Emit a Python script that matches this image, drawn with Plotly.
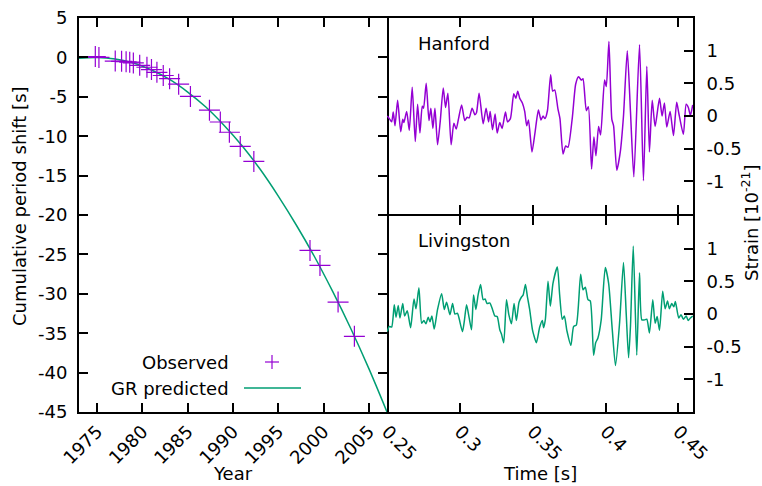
import plotly.graph_objects as go

# Hulse-Taylor pulsar: cumulative shift of periastron time
obs_year = [1974.8, 1975.2, 1977.0, 1977.7, 1978.2, 1978.6, 1979.0, 1979.7, 1980.5, 1981.0,
            1981.6, 1982.3, 1983.0, 1984.0, 1985.3, 1987.4, 1988.6, 1989.6, 1990.8, 1992.3,
            1998.5, 1999.6, 2001.6, 2003.4]
obs_shift = [0.1, 0.0, -0.47, -0.5, -0.55, -0.6, -0.7, -1.0, -1.25, -1.55,
             -1.9, -2.3, -2.7, -3.4, -4.95, -6.7, -8.2, -9.5, -11.3, -13.2,
             -24.5, -26.4, -31.05, -35.4]

gr_year = [1973, 1975, 1977, 1979, 1981, 1983, 1985, 1987, 1989, 1991,
           1993, 1995, 1997, 1999, 2001, 2003, 2005, 2007]
gr_shift = [-0.1, 0.0, -0.2, -0.7, -1.6, -2.8, -4.4, -6.3, -8.6, -11.2,
            -14.2, -17.6, -21.3, -25.3, -29.7, -34.4, -39.5, -45.0]

# GW150914 strain, units of 1e-21
hanford_t = [0.2502, 0.2516, 0.2532, 0.2543, 0.2555, 0.2573, 0.2594, 0.2608, 0.2616, 0.2635,
             0.2653, 0.2673, 0.2694, 0.2710, 0.2726, 0.2742, 0.2751, 0.2769, 0.2788, 0.2801,
             0.2815, 0.2829, 0.2847, 0.2865, 0.2886, 0.2902, 0.2918, 0.2940, 0.2959, 0.2975,
             0.2991, 0.3012, 0.3034, 0.3050, 0.3064, 0.3084, 0.3103, 0.3114, 0.3132, 0.3160,
             0.3180, 0.3197, 0.3208, 0.3224, 0.3242, 0.3256, 0.3274, 0.3290, 0.3313, 0.3327,
             0.3347, 0.3370, 0.3384, 0.3397, 0.3411, 0.3429, 0.3445, 0.3459, 0.3471, 0.3495,
             0.3516, 0.3539, 0.3557, 0.3571, 0.3584, 0.3601, 0.3623, 0.3637, 0.3651, 0.3673,
             0.3687, 0.3708, 0.3726, 0.3742, 0.3772, 0.3795, 0.3815, 0.3834, 0.3845, 0.3868,
             0.3882, 0.3904, 0.3920, 0.3934, 0.3952, 0.3966, 0.3993, 0.4005, 0.4023, 0.4043,
             0.4055, 0.4077, 0.4101, 0.4123, 0.4149, 0.4171, 0.4194, 0.4233, 0.4260, 0.4283,
             0.4301, 0.4320, 0.4340, 0.4370, 0.4388, 0.4404, 0.4420, 0.4443, 0.4466, 0.4488,
             0.4502, 0.4534, 0.4553, 0.4568, 0.4582, 0.4598]
hanford_h = [0.00, -0.04, -0.09, 0.06, -0.15, 0.24, -0.24, -0.05, -0.10, 0.07,
             -0.22, 0.44, -0.39, 0.18, -0.26, 0.15, 0.12, 0.50, -0.07, 0.12,
             -0.19, 0.12, -0.44, -0.09, 0.43, 0.13, 0.35, -0.44, -0.11, -0.20,
             -0.04, 0.17, -0.07, -0.02, -0.03, 0.12, 0.02, 0.05, 0.35, -0.12,
             0.12, -0.09, 0.07, -0.21, 0.03, -0.26, -0.10, -0.19, 0.06, -0.09,
             -0.04, 0.34, 0.27, 0.38, 0.27, 0.20, 0.07, -0.15, -0.06, -0.55,
             -0.25, 0.09, -0.06, 0.00, -0.04, 0.08, 0.63, 0.38, 0.40, 0.11,
             -0.04, -0.58, -0.46, -0.48, -0.02, 0.49, 0.60, 0.55, 0.57, 0.08,
             0.14, -0.81, -0.32, -0.61, -0.16, -0.29, 0.55, 0.45, 1.14, -0.05,
             -0.15, -0.83, -0.55, 0.00, 1.00, 0.06, -0.93, 1.09, -0.99, 0.76,
             -0.55, 0.24, -0.16, 0.27, 0.00, 0.20, -0.17, 0.07, -0.30, 0.21,
             0.05, -0.28, 0.18, 0.13, 0.01, 0.17]

livingston_t = [0.2502, 0.2516, 0.2532, 0.2550, 0.2562, 0.2577, 0.2589, 0.2608, 0.2621, 0.2639,
                0.2662, 0.2685, 0.2699, 0.2719, 0.2738, 0.2753, 0.2767, 0.2783, 0.2795, 0.2808,
                0.2824, 0.2847, 0.2875, 0.2893, 0.2909, 0.2932, 0.2950, 0.2966, 0.2984, 0.2995,
                0.3018, 0.3030, 0.3046, 0.3064, 0.3080, 0.3094, 0.3110, 0.3125, 0.3142, 0.3160,
                0.3173, 0.3187, 0.3205, 0.3224, 0.3240, 0.3256, 0.3274, 0.3286, 0.3301, 0.3320,
                0.3336, 0.3354, 0.3372, 0.3388, 0.3406, 0.3423, 0.3434, 0.3450, 0.3464, 0.3479,
                0.3498, 0.3507, 0.3525, 0.3548, 0.3566, 0.3575, 0.3587, 0.3605, 0.3621, 0.3639,
                0.3669, 0.3685, 0.3703, 0.3717, 0.3735, 0.3762, 0.3781, 0.3799, 0.3829, 0.3845,
                0.3861, 0.3879, 0.3895, 0.3918, 0.3932, 0.3947, 0.3970, 0.3998, 0.4021, 0.4046,
                0.4068, 0.4096, 0.4123, 0.4142, 0.4158, 0.4171, 0.4190, 0.4214, 0.4233, 0.4249,
                0.4267, 0.4283, 0.4301, 0.4324, 0.4340, 0.4354, 0.4370, 0.4392, 0.4409, 0.4425,
                0.4438, 0.4454, 0.4468, 0.4479, 0.4502, 0.4518, 0.4534, 0.4553, 0.4567, 0.4582,
                0.4598]
livingston_h = [-0.27, -0.19, -0.20, 0.14, -0.05, 0.13, -0.06, 0.16, -0.03, 0.05,
                -0.21, 0.23, 0.08, 0.40, -0.14, -0.10, -0.15, -0.05, -0.12, -0.03,
                -0.23, 0.07, 0.31, 0.07, 0.18, -0.01, 0.16, 0.00, 0.01, -0.07,
                -0.27, -0.12, 0.14, -0.06, -0.24, 0.29, 0.07, 0.29, 0.45, 0.22,
                0.23, 0.16, 0.17, 0.07, -0.03, -0.04, -0.24, -0.31, -0.44, 0.22,
                -0.01, -0.15, 0.16, -0.10, 0.18, 0.26, 0.29, 0.45, 0.26, 0.07,
                -0.24, -0.32, -0.44, -0.20, -0.10, -0.21, -0.08, 0.50, 0.12, 0.47,
                0.72, 0.29, -0.08, -0.03, -0.26, -0.48, -0.19, -0.17, 0.61, 0.37,
                0.41, 0.22, 0.20, -0.63, -0.44, -0.37, -0.09, 0.71, 0.47, -0.24,
                -0.79, -0.14, 0.79, -0.01, -0.67, -0.18, 1.04, -0.63, 0.63, -0.09,
                -0.09, -0.08, -0.29, 0.22, -0.14, -0.04, -0.25, 0.35, 0.08, 0.20,
                0.08, 0.16, 0.11, 0.19, -0.06, -0.01, -0.08, -0.03, -0.10, -0.06,
                -0.03]

year_ticks = [1975, 1980, 1985, 1990, 1995, 2000, 2005]
shift_ticks = [5, 0, -5, -10, -15, -20, -25, -30, -35, -40, -45]
time_ticks = [0.25, 0.3, 0.35, 0.4, 0.45]
strain_ticks = [1, 0.5, 0, -0.5, -1]

PURPLE = '#9400D3'
GREEN = '#009E73'
FONT = 'DejaVu Sans'

fig = go.Figure()

fig.add_trace(go.Scatter(x=gr_year, y=gr_shift, mode='lines', line=dict(color=GREEN, width=1.5, shape='spline'),
                         xaxis='x', yaxis='y', showlegend=False))
fig.add_trace(go.Scatter(x=obs_year, y=obs_shift, mode='markers',
                         marker=dict(symbol='cross-thin', size=15, line=dict(width=1.2, color=PURPLE)),
                         xaxis='x', yaxis='y', showlegend=False))
fig.add_trace(go.Scatter(x=hanford_t, y=hanford_h, mode='lines',
                         line=dict(color=PURPLE, width=1.5, shape='spline', smoothing=0.6),
                         xaxis='x2', yaxis='y2', showlegend=False))
fig.add_trace(go.Scatter(x=livingston_t, y=livingston_h, mode='lines',
                         line=dict(color=GREEN, width=1.5, shape='spline', smoothing=0.6),
                         xaxis='x3', yaxis='y3', showlegend=False))

# plot area in pixels: x 79..693, y 18..412
W, H = 762, 486
L, R, T, B = 79, 693, 18, 412
pw, ph = R - L, B - T
split = (387 - L) / pw
gap = 1 / ph  # lets the two 2px borders between the right panels overlap

def px(x):
    return (x - L) / pw

def py(y):
    return (B - y) / ph

frame = dict(showline=True, linecolor='black', linewidth=2, ticks='inside', ticklen=9, tickwidth=1.5,
             tickcolor='black', showgrid=False, zeroline=False, tickfont=dict(size=18, color='black'))

fig.update_layout(
    width=W, height=H,
    margin=dict(l=L, r=W - R, t=T, b=H - B, autoexpand=False),
    plot_bgcolor='white', paper_bgcolor='white',
    font=dict(family=FONT, size=18, color='black'),
    xaxis=dict(domain=[0, split], range=[1973, 2007], tickvals=year_ticks,
               ticktext=[str(v) for v in year_ticks], tickangle=-45, mirror='allticks',
               anchor='y', **frame),
    yaxis=dict(domain=[0, 1], range=[-45, 5], tickvals=shift_ticks,
               ticktext=[str(v) for v in shift_ticks], mirror='allticks', anchor='x',
               ticklabelstandoff=6, **frame),
    xaxis2=dict(domain=[split, 1], range=[0.25, 0.46], tickvals=time_ticks, showticklabels=False,
                mirror='allticks', anchor='y2', **frame),
    yaxis2=dict(domain=[0.5 + gap, 1], range=[-1.5, 1.5], tickvals=strain_ticks,
                ticktext=[str(v) for v in strain_ticks], side='right', mirror=False, anchor='x2',
                ticklabelstandoff=8, **frame),
    xaxis3=dict(domain=[split, 1], range=[0.25, 0.46], tickvals=time_ticks,
                ticktext=[str(v) for v in time_ticks], tickangle=45, mirror='allticks',
                anchor='y3', **frame),
    yaxis3=dict(domain=[0, 0.5 - gap], range=[-1.5, 1.5], tickvals=strain_ticks,
                ticktext=[str(v) for v in strain_ticks], side='right', mirror=False, anchor='x3',
                ticklabelstandoff=8, **frame),
)

ann = dict(xref='paper', yref='paper', showarrow=False, font=dict(family=FONT, size=18, color='black'))
fig.add_annotation(text='Year', x=px(233), y=py(473), xanchor='center', yanchor='middle', **ann)
fig.add_annotation(text='Time [s]', x=px(540), y=py(473), xanchor='center', yanchor='middle', **ann)
fig.add_annotation(text='Cumulative period shift [s]', x=px(19), y=py(206), textangle=-90,
                   xanchor='center', yanchor='middle', **ann)
fig.add_annotation(text='Strain [10<sup>-21</sup>]', x=px(750), y=py(223), textangle=-90,
                   xanchor='center', yanchor='middle', **ann)
fig.add_annotation(text='Hanford', x=px(416), y=py(43), xanchor='left', yanchor='middle', **ann)
fig.add_annotation(text='Livingston', x=px(416), y=py(240), xanchor='left', yanchor='middle', **ann)

# gnuplot-style key: text right-aligned, sample to the right
fig.add_annotation(text='Observed', x=px(231), y=py(362), xanchor='right', yanchor='middle', **ann)
fig.add_annotation(text='GR predicted', x=px(231), y=py(388), xanchor='right', yanchor='middle', **ann)
fig.add_shape(type='line', xref='paper', yref='paper', x0=px(265), x1=px(279), y0=py(362), y1=py(362),
              line=dict(color=PURPLE, width=1.2))
fig.add_shape(type='line', xref='paper', yref='paper', x0=px(272), x1=px(272), y0=py(355), y1=py(369),
              line=dict(color=PURPLE, width=1.2))
fig.add_shape(type='line', xref='paper', yref='paper', x0=px(244), x1=px(301), y0=py(388), y1=py(388),
              line=dict(color=GREEN, width=1.5))

# drop the browser's default 8px body margin so the figure sits at the page origin
fig.write_html("out.html", config={'displayModeBar': False},
               post_script="document.body.style.margin='0';")
